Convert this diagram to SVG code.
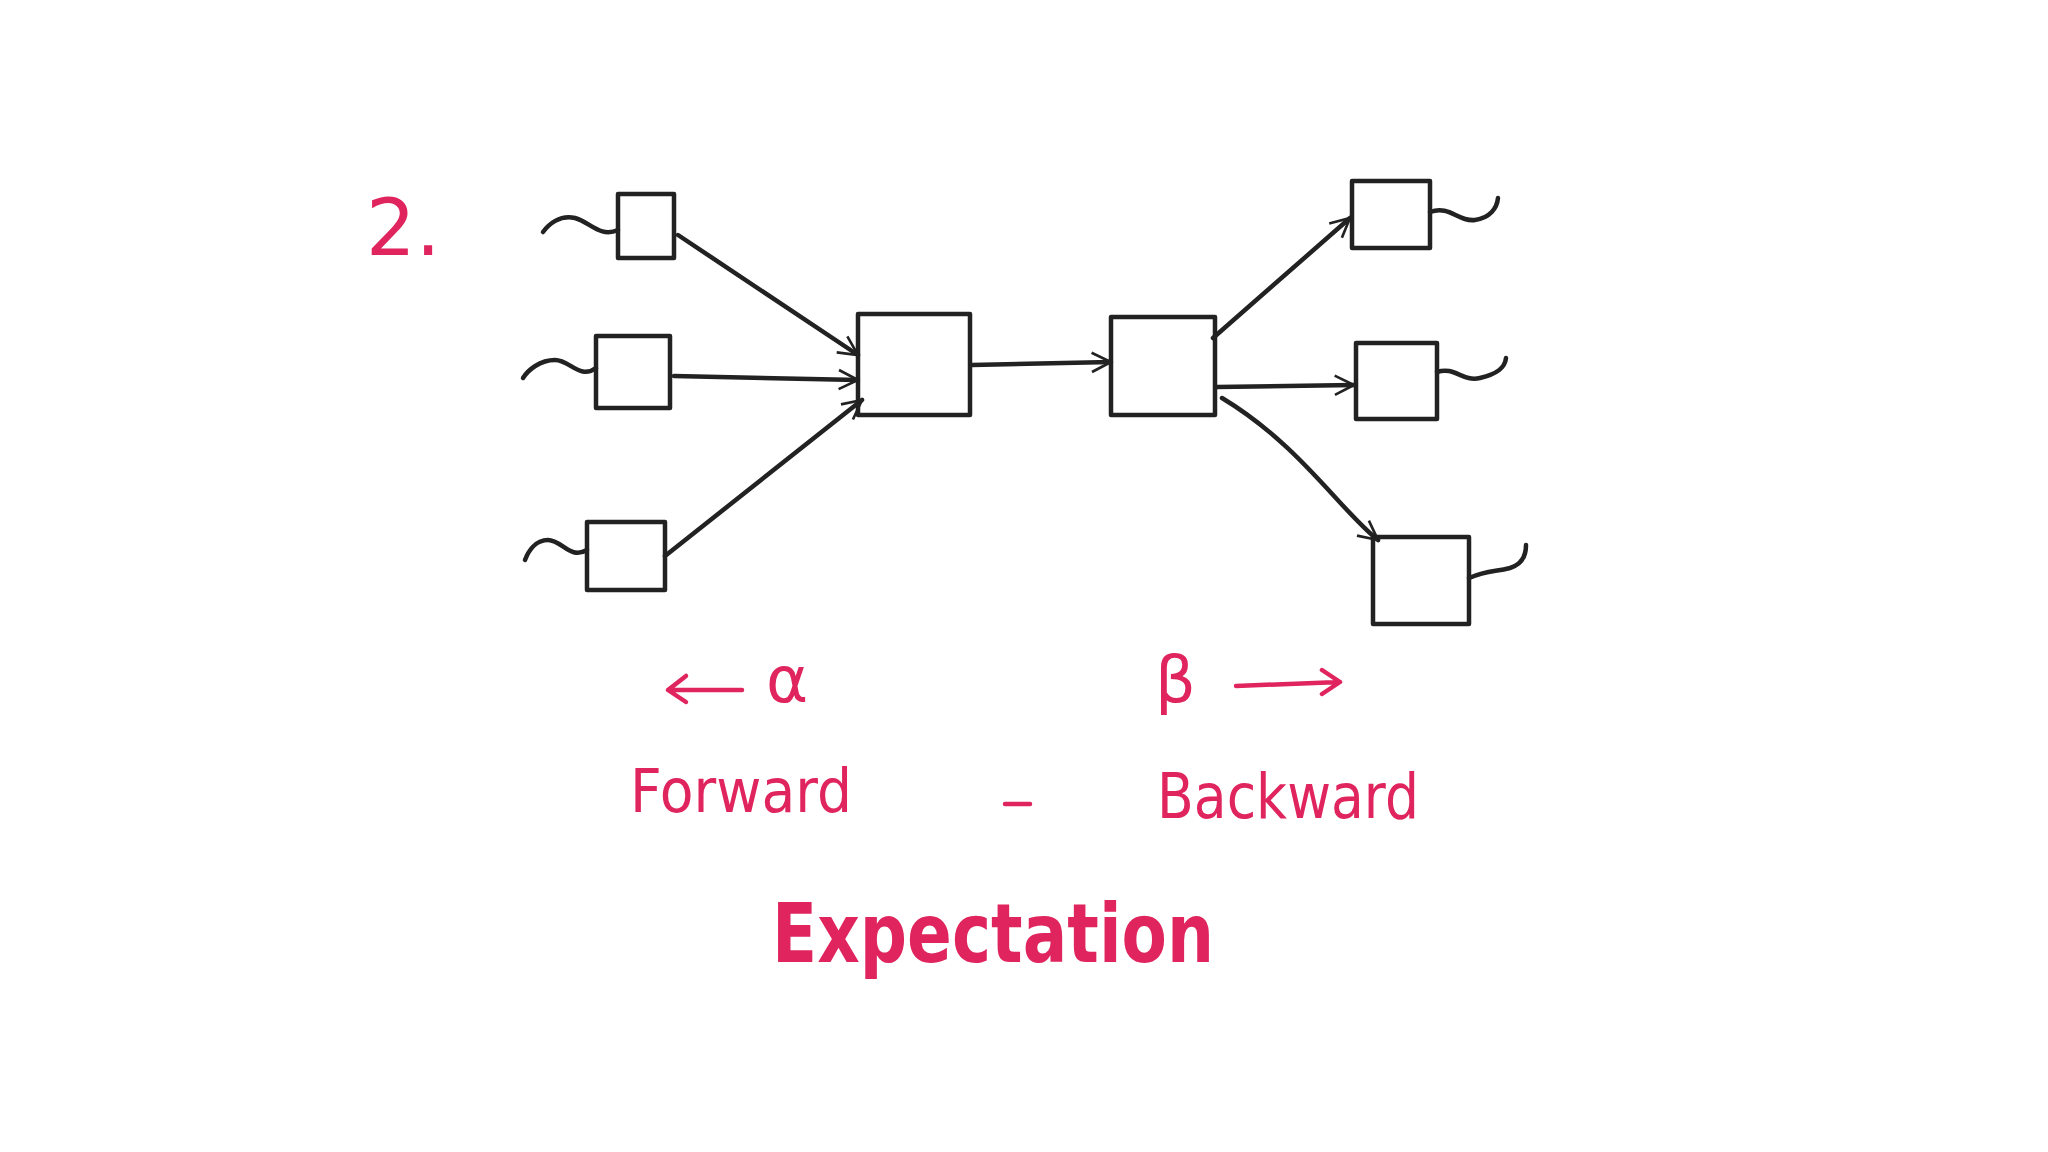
<svg xmlns="http://www.w3.org/2000/svg" width="2048" height="1152" viewBox="0 0 2048 1152">
<style>
.b{fill:none;stroke:#222;stroke-width:4.5;stroke-linecap:round;stroke-linejoin:round}
.p{fill:none;stroke:#e0245e;stroke-width:4.5;stroke-linecap:round;stroke-linejoin:round}
.t{fill:#e0245e;font-family:"Comic Sans MS","DejaVu Sans",sans-serif}
</style>
<defs><marker id="a" viewBox="0 0 20 20" refX="18" refY="10" markerWidth="24" markerHeight="24" markerUnits="userSpaceOnUse" orient="auto"><path d="M2 2 L18 10 L2 18" fill="none" stroke="#222" stroke-width="2.2"/></marker></defs>
<rect width="2048" height="1152" fill="#fff"/>
<g id="L1"><rect class="b" x="618" y="194" width="56" height="64"/><path class="b" d="M618 230 C600 238 590 222 575 218 C560 214 548 225 543 232"/></g>
<g id="L2"><rect class="b" x="596" y="336" width="74" height="72"/><path class="b" d="M596 368 C580 380 570 360 555 360 C540 360 528 370 523 378"/></g>
<g id="L3"><rect class="b" x="587" y="522" width="78" height="68"/><path class="b" d="M587 550 C570 560 562 540 548 540 C535 540 528 552 525 560"/></g>
<g id="C1"><rect class="b" x="858" y="314" width="112" height="101"/></g>
<g id="C2"><rect class="b" x="1111" y="317" width="104" height="98"/></g>
<g id="R1"><rect class="b" x="1352" y="181" width="78" height="67"/><path class="b" d="M1430 212 C1450 205 1458 222 1475 220 C1490 218 1497 208 1498 198"/></g>
<g id="R2"><rect class="b" x="1356" y="343" width="81" height="76"/><path class="b" d="M1437 372 C1455 366 1462 382 1480 378 C1497 374 1505 368 1506 358"/></g>
<g id="R3"><rect class="b" x="1373" y="537" width="96" height="87"/><path class="b" d="M1469 578 C1488 570 1495 572 1510 568 C1520 565 1526 558 1526 545"/></g>
<g id="connectors">
<path class="b" d="M678 235 L858 355" marker-end="url(#a)"/>
<path class="b" d="M674 376 L858 380" marker-end="url(#a)"/>
<path class="b" d="M665 556 L862 400" marker-end="url(#a)"/>
<path class="b" d="M972 365 L1111 362" marker-end="url(#a)"/>
<path class="b" d="M1213 338 L1350 218" marker-end="url(#a)"/>
<path class="b" d="M1217 387 L1354 385" marker-end="url(#a)"/>
<path class="b" d="M1222 398 C1300 445 1340 510 1378 540" marker-end="url(#a)"/>
</g>
<text class="t" x="366" y="255" font-size="78">2.</text>
<path class="p" d="M742 690 L668 690 M686 676 L668 690 L686 702"/>
<text class="t" x="766" y="702" font-size="64">α</text>
<text class="t" x="1155" y="702" font-size="64">β</text>
<path class="p" d="M1236 686 L1340 682 M1322 670 L1340 682 L1322 694"/>
<text class="t" x="630" y="812" font-size="60" textLength="222" lengthAdjust="spacingAndGlyphs">Forward</text>
<path class="p" d="M1005 804 L1030 804"/>
<text class="t" x="1157" y="818" font-size="62" textLength="262" lengthAdjust="spacingAndGlyphs">Backward</text>
<text class="t" x="772" y="962" font-size="82" font-weight="bold" textLength="442" lengthAdjust="spacingAndGlyphs">Expectation</text>
</svg>
